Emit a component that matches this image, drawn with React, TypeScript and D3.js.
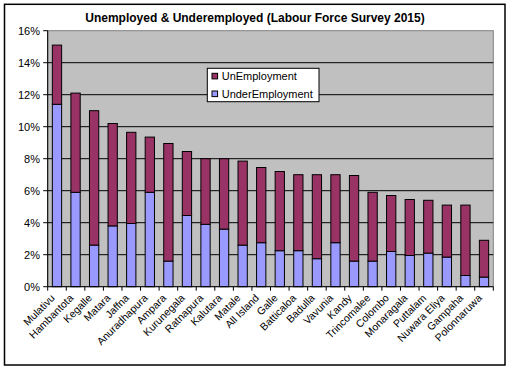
import React from "react";
import * as d3 from "d3";

const categories = [
  "Mulativu", "Hambantota", "Kegalle", "Matara", "Jaffna", "Anuradhapura",
  "Ampara", "Kurunegala", "Ratnapura", "Kalutara", "Matale", "All Island",
  "Galle", "Batticaloa", "Badulla", "Vavunia", "Kandy", "Trincomalee",
  "Colombo", "Monaragala", "Puttalam", "Nuwara Eliya", "Gampaha", "Polonnaruwa",
];
const underEmployment = [
  11.4, 5.9, 2.6, 3.8, 3.95, 5.9, 1.6, 4.45, 3.9, 3.6, 2.6, 2.75,
  2.25, 2.25, 1.75, 2.75, 1.6, 1.6, 2.2, 1.95, 2.1, 1.85, 0.7, 0.6,
];
const unEmployment = [
  3.7, 6.2, 8.4, 6.4, 5.7, 3.45, 7.35, 4.0, 4.1, 4.4, 5.25, 4.7,
  4.95, 4.75, 5.25, 4.25, 5.35, 4.3, 3.5, 3.5, 3.3, 3.25, 4.4, 2.3,
];
const yTicks = [0, 2, 4, 6, 8, 10, 12, 14, 16];
const seriesNames = ["UnEmployment", "UnderEmployment"];
const title = "Unemployed & Underemployed (Labour Force Survey 2015)";

const W = 509;
const H = 369;
const plotL = 47.7;
const plotR = 493.3;
const plotT = 30.7;
const plotB = 286.7;
const colUn = "#993366";
const colUnder = "#9999FF";
const font = "'Liberation Sans', Arial, sans-serif";

export default function App() {
  const x = d3.scaleBand<string>().domain(categories).range([plotL, plotR]).paddingInner(0.5).paddingOuter(0.25);
  const y = d3.scaleLinear().domain([0, 16]).range([plotB, plotT]);
  const step = x.step();
  const rows = categories.map((c, i) => ({ c, under: underEmployment[i], un: unEmployment[i] }));
  const stack = d3.stack<any>().keys(["under", "un"])(rows as any);
  const colors: Record<string, string> = { under: colUnder, un: colUn };
  const boundaries = d3.range(categories.length + 1).map((i) => plotL + i * step);

  return (
    <div style={{ position: "absolute", left: 0, top: 0 }}>
      <svg width={W} height={H} style={{ display: "block", background: "#fff" }}>
        <rect x={4.5} y={4.3} width={500.5} height={360.7} fill="#fff" stroke="#000" strokeWidth={1.5} />
        <text x={255} y={21.5} textAnchor="middle" fontFamily={font} fontSize={12} fontWeight="bold">{title}</text>
        <rect x={plotL} y={plotT} width={plotR - plotL} height={plotB - plotT} fill="#C0C0C0" stroke="#808080" strokeWidth={1} />
        {yTicks.filter((t) => t > 0 && t < 16).map((t) => (
          <line key={"g" + t} x1={plotL} x2={plotR} y1={y(t)} y2={y(t)} stroke="#000" strokeWidth={1} />
        ))}
        {stack.map((s) => (
          <g key={s.key} fill={colors[s.key]} stroke="#000" strokeWidth={1}>
            {s.map((d: any, i: number) => (
              <rect key={i} x={x(categories[i])!} y={y(d[1])} width={x.bandwidth()} height={y(d[0]) - y(d[1])} />
            ))}
          </g>
        ))}
        <line x1={plotL} x2={plotL} y1={plotT} y2={plotB} stroke="#000" strokeWidth={1} />
        <line x1={plotL} x2={plotR} y1={plotB} y2={plotB} stroke="#000" strokeWidth={1} />
        {yTicks.map((t) => (
          <g key={"y" + t}>
            <line x1={plotL - 4.5} x2={plotL} y1={y(t)} y2={y(t)} stroke="#000" />
            <text x={40} y={y(t) + 4} textAnchor="end" fontFamily={font} fontSize={11}>{t + "%"}</text>
          </g>
        ))}
        {boundaries.map((b, i) => (
          <line key={"xt" + i} x1={b} x2={b} y1={plotB} y2={plotB + 4} stroke="#000" />
        ))}
        {categories.map((c) => {
          const cx = x(c)! + x.bandwidth() / 2;
          return (
            <text key={"xl" + c} transform={`translate(${cx - 1.5},${plotB + 12})rotate(-45)`} textAnchor="end" fontFamily={font} fontSize={10.5}>{c}</text>
          );
        })}
        <g>
          <rect x={207.3} y={68.3} width={111.7} height={33.4} fill="#fff" stroke="#000" strokeWidth={1} />
          {seriesNames.map((n, i) => (
            <g key={n}>
              <rect x={212} y={73.3 + i * 17.7} width={5.6} height={5.6} fill={i === 0 ? colUn : colUnder} stroke="#000" strokeWidth={1} />
              <text x={221.7} y={80 + i * 17.5} fontFamily={font} fontSize={11}>{n}</text>
            </g>
          ))}
        </g>
      </svg>
    </div>
  );
}
